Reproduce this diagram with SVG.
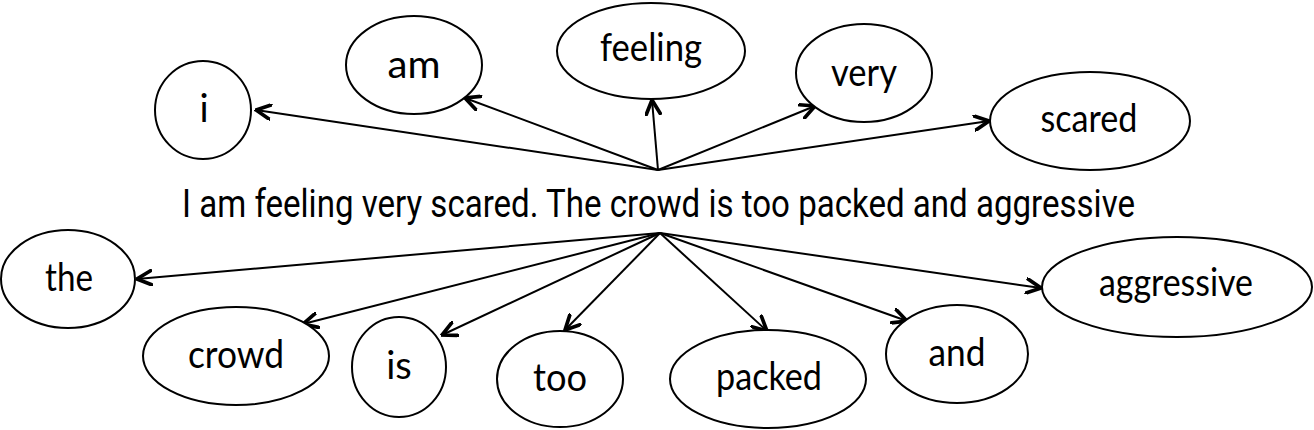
<svg xmlns="http://www.w3.org/2000/svg" width="1314" height="430" viewBox="0 0 1314 430">
<style>
.n ellipse{fill:#fff;stroke:#000;stroke-width:2}
.n text{font-family:Lato,"Open Sans",sans-serif;font-size:38px;fill:#000;text-anchor:middle}
.c line{stroke:#000;stroke-width:2;marker-end:url(#ah)}
.s{font-family:Roboto,"Liberation Sans",sans-serif;font-size:38px;fill:#000}
</style>
<defs>
<marker id="ah" viewBox="0 0 12 12" refX="11" refY="6" markerWidth="17" markerHeight="17" markerUnits="userSpaceOnUse" orient="auto">
<path d="M1,1 L11,6 L1,11" fill="none" stroke="#000" stroke-width="2.6" stroke-linecap="round" stroke-linejoin="miter"/>
</marker>
</defs>
<g class="c" id="connectors">
<line x1="658" y1="170" x2="256" y2="110"/>
<line x1="658" y1="170" x2="465" y2="98"/>
<line x1="658" y1="170" x2="652" y2="100"/>
<line x1="658" y1="170" x2="815" y2="106"/>
<line x1="658" y1="170" x2="989" y2="121"/>
<line x1="660" y1="233" x2="137" y2="279"/>
<line x1="660" y1="233" x2="303" y2="324"/>
<line x1="660" y1="233" x2="442" y2="335"/>
<line x1="660" y1="233" x2="565" y2="330"/>
<line x1="660" y1="233" x2="767" y2="331"/>
<line x1="660" y1="233" x2="907" y2="321"/>
<line x1="660" y1="233" x2="1041" y2="288"/>
</g>
<text class="s" id="sentence" x="182" y="217" textLength="953" lengthAdjust="spacingAndGlyphs">I am feeling very scared. The crowd is too packed and aggressive</text>
<g class="n" id="n-i"><ellipse cx="203" cy="110" rx="48" ry="49"/><text x="204" y="122">i</text></g>
<g class="n" id="n-am"><ellipse cx="414" cy="65" rx="68" ry="49"/><text x="414" y="78" textLength="53" lengthAdjust="spacingAndGlyphs">am</text></g>
<g class="n" id="n-feeling"><ellipse cx="651" cy="51" rx="94" ry="48"/><text x="651" y="61" textLength="102" lengthAdjust="spacingAndGlyphs">feeling</text></g>
<g class="n" id="n-very"><ellipse cx="864" cy="73" rx="68" ry="49"/><text x="864" y="86" textLength="66" lengthAdjust="spacingAndGlyphs">very</text></g>
<g class="n" id="n-scared"><ellipse cx="1090" cy="121" rx="100" ry="49"/><text x="1089" y="132" textLength="97" lengthAdjust="spacingAndGlyphs">scared</text></g>
<g class="n" id="n-the"><ellipse cx="68" cy="279" rx="67" ry="49"/><text x="69" y="291" textLength="48" lengthAdjust="spacingAndGlyphs">the</text></g>
<g class="n" id="n-crowd"><ellipse cx="236" cy="356" rx="93" ry="49"/><text x="236" y="368" textLength="96" lengthAdjust="spacingAndGlyphs">crowd</text></g>
<g class="n" id="n-is"><ellipse cx="399" cy="367" rx="47" ry="50"/><text x="399" y="379">is</text></g>
<g class="n" id="n-too"><ellipse cx="560" cy="379" rx="63" ry="48"/><text x="560" y="391" textLength="54" lengthAdjust="spacingAndGlyphs">too</text></g>
<g class="n" id="n-packed"><ellipse cx="768" cy="379" rx="98" ry="49"/><text x="769" y="390" textLength="106" lengthAdjust="spacingAndGlyphs">packed</text></g>
<g class="n" id="n-and"><ellipse cx="957" cy="354" rx="71" ry="49"/><text x="957" y="366" textLength="57" lengthAdjust="spacingAndGlyphs">and</text></g>
<g class="n" id="n-aggressive"><ellipse cx="1177" cy="287" rx="135" ry="50"/><text x="1176" y="296" textLength="154" lengthAdjust="spacingAndGlyphs">aggressive</text></g>
</svg>
